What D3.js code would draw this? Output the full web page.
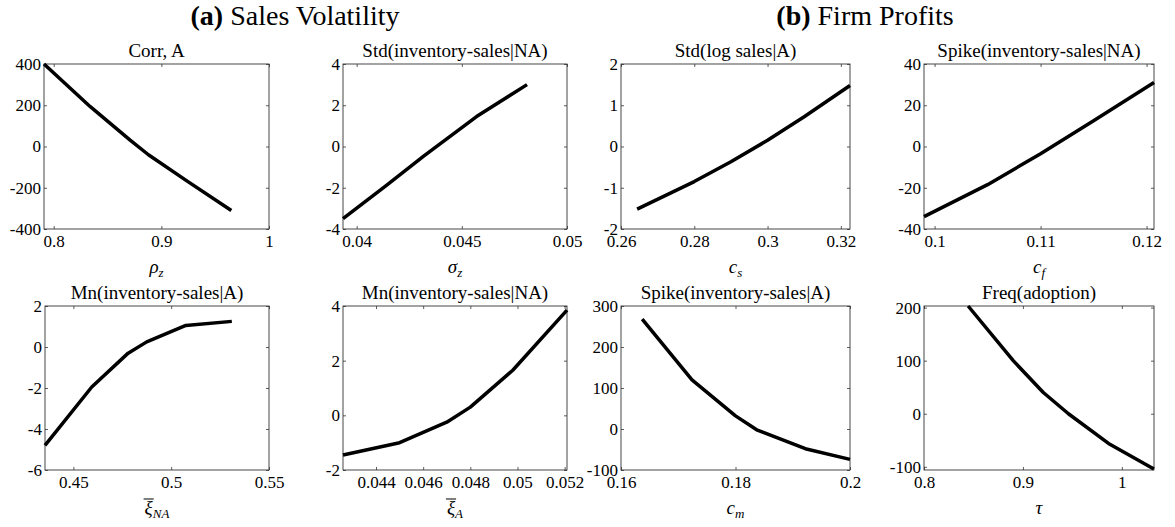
<!DOCTYPE html>
<html>
<head>
<meta charset="utf-8">
<script src="https://cdn.jsdelivr.net/npm/d3@7"></script>
<style>
body { margin: 0; background: #fff; }
svg { display: block; }
text { font-family: "Liberation Serif", "DejaVu Serif", serif; fill: #000; }
</style>
</head>
<body>
<svg id="fig" width="1175" height="527"></svg>
<script>
// (a) Sales Volatility
var rhoZ = [0.791, 0.834, 0.871, 0.888, 0.924, 0.965],
    corrA = [400, 193, 31, -40, -168, -310];
var sigmaZ = [0.03935, 0.0414, 0.0432, 0.0457, 0.0481],
    stdInvNA = [-3.5, -1.9, -0.45, 1.45, 3.0];
var xiNA = [0.4355, 0.4594, 0.478, 0.4875, 0.5075, 0.531],
    mnInvA = [-4.8, -1.95, -0.3, 0.25, 1.05, 1.25];
var xiA = [0.0426, 0.045, 0.047, 0.048, 0.0498, 0.0521],
    mnInvNA = [-1.45, -1.0, -0.25, 0.3, 1.65, 3.85];

// (b) Firm Profits
var cS = [0.2644, 0.28, 0.29, 0.3, 0.31, 0.3225],
    stdLogSalesA = [-1.52, -0.85, -0.37, 0.15, 0.72, 1.48];
var cF = [0.099, 0.105, 0.11, 0.115, 0.1207],
    spikeInvNA = [-34, -18.5, -3.5, 12.5, 31];
var cM = [0.1637, 0.1724, 0.18, 0.1837, 0.1922, 0.2],
    spikeInvA = [268, 120, 32, -2, -48, -74];
var tau = [0.8446, 0.8902, 0.9206, 0.946, 0.9865, 1.0324],
    freqAdoption = [203, 100, 40, 0, -56, -104];

var titles = ['Corr, A', 'Std(inventory-sales|NA)', 'Std(log sales|A)', 'Spike(inventory-sales|NA)',
              'Mn(inventory-sales|A)', 'Mn(inventory-sales|NA)', 'Spike(inventory-sales|A)', 'Freq(adoption)'];

var panels = [
    {x: rhoZ, y: corrA, xd: [0.791, 1], yd: [-400, 400], xt: [0.8, 0.9, 1], yt: [-400, -200, 0, 200, 400],
     lab: {m: 'ρ', s: 'z'}, box: [44, 64, 269, 229]},
    {x: sigmaZ, y: stdInvNA, xd: [0.03935, 0.05], yd: [-4, 4], xt: [0.04, 0.045, 0.05], yt: [-4, -2, 0, 2, 4],
     lab: {m: 'σ', s: 'z'}, box: [343, 64, 567, 229]},
    {x: cS, y: stdLogSalesA, xd: [0.26, 0.3225], yd: [-2, 2], xt: [0.26, 0.28, 0.3, 0.32], yt: [-2, -1, 0, 1, 2],
     lab: {m: 'c', s: 's'}, box: [621, 64, 850, 229]},
    {x: cF, y: spikeInvNA, xd: [0.099, 0.1207], yd: [-40, 40], xt: [0.1, 0.11, 0.12], yt: [-40, -20, 0, 20, 40],
     lab: {m: 'c', s: 'f'}, box: [924, 64, 1154, 229]},
    {x: xiNA, y: mnInvA, xd: [0.4355, 0.55], yd: [-6, 2], xt: [0.45, 0.5, 0.55], yt: [-6, -4, -2, 0, 2],
     lab: {m: 'ξ', s: 'NA', bar: true}, box: [45, 306, 269, 470]},
    {x: xiA, y: mnInvNA, xd: [0.0426, 0.0521], yd: [-2, 4], xt: [0.044, 0.046, 0.048, 0.05, 0.052], yt: [-2, 0, 2, 4],
     lab: {m: 'ξ', s: 'A', bar: true}, box: [343, 306, 567, 470]},
    {x: cM, y: spikeInvA, xd: [0.16, 0.2], yd: [-100, 300], xt: [0.16, 0.18, 0.2], yt: [-100, 0, 100, 200, 300],
     lab: {m: 'c', s: 'm'}, box: [621, 306, 850, 470]},
    {x: tau, y: freqAdoption, xd: [0.8, 1.0325], yd: [-106, 203], xt: [0.8, 0.9, 1], yt: [-100, 0, 100, 200],
     lab: {m: 'τ'}, box: [924, 306, 1154, 470]}
];

var svg = d3.select('#fig');
var fmt = function (d) { return String(+d.toFixed(6)); };

function header(cx, tag, rest) {
    svg.append('text').attr('x', cx).attr('y', 25).attr('text-anchor', 'middle').style('font-size', '28px')
        .call(function (t) {
            t.append('tspan').style('font-weight', 'bold').text(tag);
            t.append('tspan').text(' ' + rest);
        });
}
header(295, '(a)', 'Sales Volatility');
header(865, '(b)', 'Firm Profits');

panels.forEach(function (p, i) {
    var b = p.box,
        w = b[2] - b[0],
        h = b[3] - b[1];
    var x = d3.scaleLinear().domain(p.xd).range([0, w]),
        y = d3.scaleLinear().domain(p.yd).range([h, 0]);
    var g = svg.append('g').attr('transform', 'translate(' + b[0] + ',' + b[1] + ')');

    function styleAxis(a) {
        a.attr('font-family', null).attr('font-size', null);
        a.select('.domain').remove();
        a.selectAll('line').attr('stroke', '#333').attr('stroke-width', 0.8);
        a.selectAll('text').style('font-size', '17px')
            .style('font-family', '"Liberation Serif", "DejaVu Serif", serif').attr('fill', '#000');
    }

    g.append('g').attr('transform', 'translate(0,' + h + ')')
        .call(d3.axisBottom(x).tickValues(p.xt).tickFormat(fmt).tickSizeInner(-3).tickSizeOuter(0).tickPadding(6))
        .call(styleAxis);
    g.append('g')
        .call(d3.axisLeft(y).tickValues(p.yt).tickFormat(fmt).tickSizeInner(-3).tickSizeOuter(0).tickPadding(3))
        .call(styleAxis);
    g.append('g')
        .call(d3.axisTop(x).tickValues(p.xt).tickFormat('').tickSizeInner(-3).tickSizeOuter(0))
        .call(styleAxis);
    g.append('g').attr('transform', 'translate(' + w + ',0)')
        .call(d3.axisRight(y).tickValues(p.yt).tickFormat('').tickSizeInner(-3).tickSizeOuter(0))
        .call(styleAxis);

    g.append('rect').attr('width', w).attr('height', h)
        .attr('fill', 'none').attr('stroke', '#333').attr('stroke-width', 0.9);

    var line = d3.line()
        .x(function (d) { return x(d[0]); })
        .y(function (d) { return y(d[1]); });
    g.append('path').datum(d3.zip(p.x, p.y)).attr('d', line)
        .attr('fill', 'none').attr('stroke', '#000').attr('stroke-width', 3.5)
        .attr('stroke-linejoin', 'round');

    g.append('text').attr('x', w / 2).attr('y', -7).attr('text-anchor', 'middle')
        .style('font-size', '19px').text(titles[i]);

    var lt = g.append('text').attr('x', w / 2).attr('y', h + 44).attr('text-anchor', 'middle')
        .style('font-size', '19px').style('font-style', 'italic');
    lt.append('tspan').text(p.lab.m);
    if (p.lab.s) {
        lt.append('tspan').attr('dy', 4).style('font-size', '13px').text(p.lab.s);
    }
    if (p.lab.bar) {
        var e = lt.node().getExtentOfChar(0);
        g.append('line').attr('x1', e.x - 1).attr('x2', e.x + e.width + 1)
            .attr('y1', e.y + 2).attr('y2', e.y + 2).attr('stroke', '#000').attr('stroke-width', 1);
    }
});
</script>
</body>
</html>
